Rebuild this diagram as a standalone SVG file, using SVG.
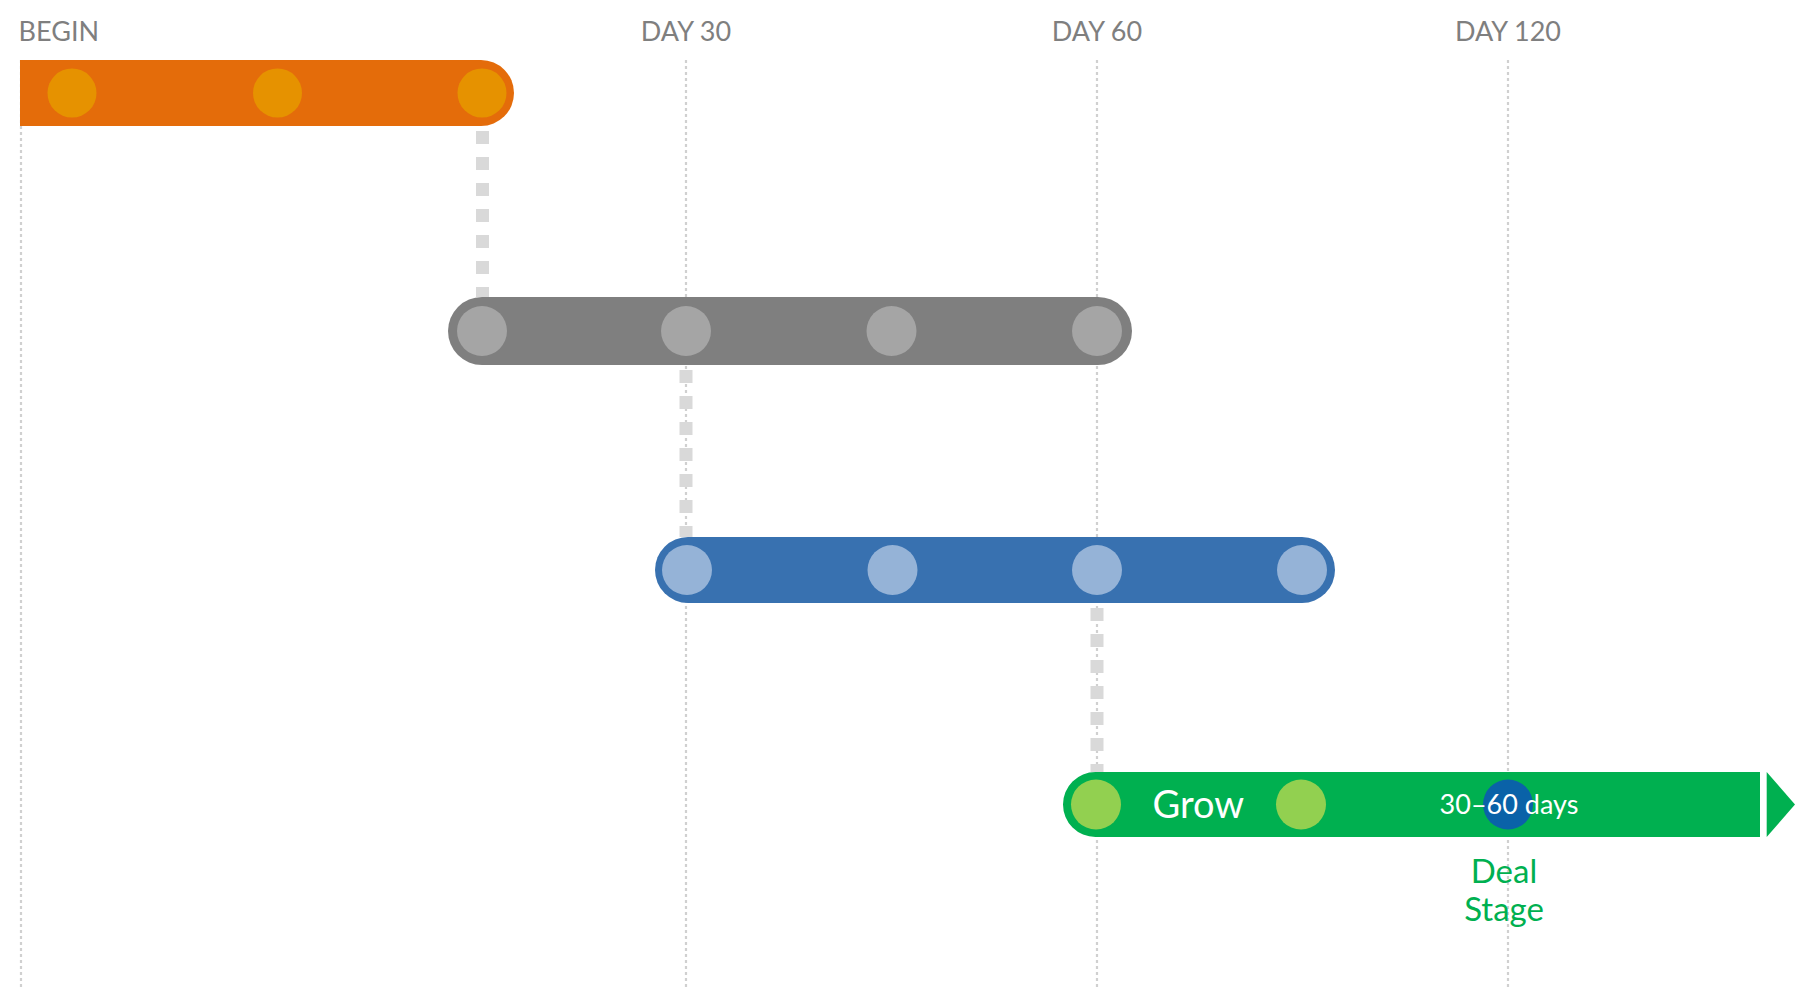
<svg xmlns="http://www.w3.org/2000/svg" width="1820" height="1005" viewBox="0 0 1820 1005">
<style>
.lbl{font-family:Lato,"Open Sans","Liberation Sans",sans-serif;font-size:27px;fill:#7F7F7F}
.grid{stroke:#D0D0D0;stroke-width:2.2;stroke-dasharray:3 3;fill:none}
.conn{stroke:#D9D9D9;stroke-width:13;stroke-dasharray:13 13;fill:none}
.oc{fill:#E69200}.gc{fill:#A5A5A5}.bc{fill:#95B3D7}.lc{fill:#92D050}
.wt{font-family:Lato,"Open Sans","Liberation Sans",sans-serif;fill:#FFFFFF}
.gt{font-family:Lato,"Open Sans","Liberation Sans",sans-serif;fill:#00B050;font-size:33px}
</style>
<rect width="1820" height="1005" fill="#FFFFFF"/>
<g id="axis">
<line class="grid" x1="21" y1="60" x2="21" y2="990"/>
<line class="grid" x1="686" y1="60" x2="686" y2="990"/>
<line class="grid" x1="1097" y1="60" x2="1097" y2="990"/>
<line class="grid" x1="1508" y1="60" x2="1508" y2="990"/>
<text class="lbl" x="18.6" y="40.5">BEGIN</text>
<text class="lbl" x="686" y="40.5" text-anchor="middle">DAY 30</text>
<text class="lbl" x="1097" y="40.5" text-anchor="middle">DAY 60</text>
<text class="lbl" x="1508" y="40.5" text-anchor="middle">DAY 120</text>
</g>
<g id="connectors">
<line class="conn" x1="482.5" y1="131" x2="482.5" y2="297"/>
<line class="conn" x1="686" y1="370" x2="686" y2="537"/>
<line class="conn" x1="1097" y1="608" x2="1097" y2="772"/>
</g>
<g id="stage-orange">
<path d="M20,60 H481 A33,33 0 0 1 481,126 H20 Z" fill="#E46C0A"/>
<circle class="oc" cx="72" cy="93" r="24.5"/>
<circle class="oc" cx="277.5" cy="93" r="24.5"/>
<circle class="oc" cx="482" cy="93" r="24.5"/>
</g>
<g id="stage-gray">
<rect x="448" y="297" width="684" height="68" rx="34" fill="#7F7F7F"/>
<circle class="gc" cx="482" cy="331" r="25"/>
<circle class="gc" cx="686" cy="331" r="25"/>
<circle class="gc" cx="891.5" cy="331" r="25"/>
<circle class="gc" cx="1097" cy="331" r="25"/>
</g>
<g id="stage-blue">
<rect x="655" y="537" width="680" height="66" rx="33" fill="#3871B0"/>
<circle class="bc" cx="687" cy="570" r="25"/>
<circle class="bc" cx="892.5" cy="570" r="25"/>
<circle class="bc" cx="1097" cy="570" r="25"/>
<circle class="bc" cx="1302" cy="570" r="25"/>
</g>
<g id="stage-grow">
<path d="M1095.5,772 H1760 V837 H1095.5 A32.5,32.5 0 0 1 1095.5,772 Z" fill="#00B050"/>
<polygon points="1766.7,772 1795,804.5 1766.7,837" fill="#00B050"/>
<circle class="lc" cx="1096" cy="804.5" r="25"/>
<circle class="lc" cx="1301" cy="804.5" r="25"/>
<circle cx="1508" cy="804.5" r="25" fill="#0A62A8"/>
<text class="wt" x="1152.6" y="818" font-size="38">Grow</text>
<text class="wt" x="1509" y="813.5" font-size="27" text-anchor="middle">30–60 days</text>
<text class="gt" x="1504" y="883" text-anchor="middle">Deal</text>
<text class="gt" x="1504" y="921" text-anchor="middle">Stage</text>
</g>
</svg>
